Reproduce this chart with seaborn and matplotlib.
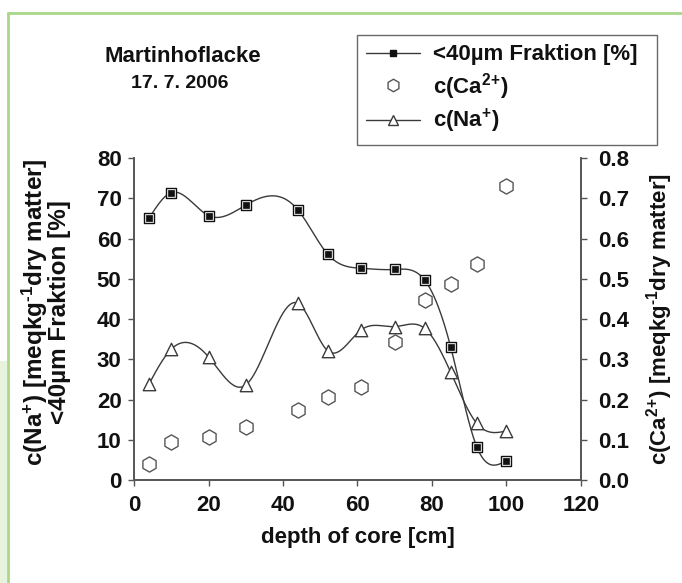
import numpy as np
import matplotlib
matplotlib.use("Agg")
import matplotlib.pyplot as plt
from matplotlib.lines import Line2D
from matplotlib.patches import Rectangle
import seaborn as sns

# depth of core [cm]
depth = [4, 10, 20, 30, 44, 52, 61, 70, 78, 85, 92, 100]
# <40 µm fraction [%]
fraction = [65.0, 71.4, 65.7, 68.3, 67.1, 56.1, 52.6, 52.3, 49.7, 33.1, 8.3, 4.8]
# c(Na+) [meq kg-1 dry matter]
sodium = [23.8, 32.5, 30.6, 23.6, 43.9, 32.1, 37.3, 38.1, 37.7, 26.8, 14.1, 12.2]
# c(Ca2+) [meq kg-1 dry matter]
calcium = [0.039, 0.094, 0.106, 0.131, 0.174, 0.207, 0.232, 0.344, 0.447, 0.486, 0.537, 0.730]

x_ticks = [0, 20, 40, 60, 80, 100, 120]
left_ticks = [0, 10, 20, 30, 40, 50, 60, 70, 80]
right_ticks = [0.0, 0.1, 0.2, 0.3, 0.4, 0.5, 0.6, 0.7, 0.8]


def natural_spline(x, y, n=500):
    """Smooth curve through the measured points (natural cubic spline)."""
    x = np.asarray(x, float)
    y = np.asarray(y, float)
    k = len(x)
    h = np.diff(x)
    A = np.zeros((k, k))
    b = np.zeros(k)
    A[0, 0] = A[-1, -1] = 1.0
    for i in range(1, k - 1):
        A[i, i - 1] = h[i - 1]
        A[i, i] = 2 * (h[i - 1] + h[i])
        A[i, i + 1] = h[i]
        b[i] = 3 * ((y[i + 1] - y[i]) / h[i] - (y[i] - y[i - 1]) / h[i - 1])
    c = np.linalg.solve(A, b)
    xs = np.linspace(x[0], x[-1], n)
    idx = np.clip(np.searchsorted(x, xs) - 1, 0, k - 2)
    dx = xs - x[idx]
    bc = (y[1:] - y[:-1]) / h - h * (2 * c[:-1] + c[1:]) / 3
    dc = (c[1:] - c[:-1]) / (3 * h)
    ys = y[idx] + bc[idx] * dx + c[idx] * dx ** 2 + dc[idx] * dx ** 3
    return xs, ys


sns.set_style("ticks")
plt.rcParams["font.family"] = ["Liberation Sans", "DejaVu Sans"]
plt.rcParams["font.weight"] = "bold"
plt.rcParams["mathtext.fontset"] = "custom"
plt.rcParams["mathtext.rm"] = "Liberation Sans:bold"
plt.rcParams["mathtext.default"] = "rm"

W, H = 682, 583
fig = plt.figure(figsize=(W / 100, H / 100), dpi=100)
ax = fig.add_axes([134 / W, 1 - 480 / H, (581 - 134) / W, (480 - 158) / H])
ax2 = ax.twinx()

line_col = "#3a3a3a"
spine_col = "#555555"
text_col = "#111111"
fs = 16

# smooth curves
fx, fy = natural_spline(depth, fraction)
nx, ny = natural_spline(depth, sodium)
sns.lineplot(x=fx, y=fy, ax=ax, color=line_col, lw=1.0, estimator=None, sort=False, zorder=2)
sns.lineplot(x=nx, y=ny, ax=ax, color=line_col, lw=1.0, estimator=None, sort=False, zorder=2)

# markers
sns.scatterplot(x=depth, y=sodium, ax=ax, marker="^", s=80, facecolor="white",
                edgecolor=line_col, linewidth=1.0, zorder=3)
sns.scatterplot(x=depth, y=fraction, ax=ax, marker="s", s=60, facecolor="white",
                edgecolor="#111111", linewidth=1.0, zorder=3)
sns.scatterplot(x=depth, y=fraction, ax=ax, marker="s", s=16, facecolor="#111111",
                edgecolor="#111111", linewidth=0.5, zorder=4)
sns.scatterplot(x=depth, y=calcium, ax=ax2, marker="h", s=120, facecolor="white",
                edgecolor="#555555", linewidth=1.0, zorder=3)

ax.set_xlim(0, 120)
ax.set_ylim(0, 80)
ax2.set_ylim(0, 0.8)
ax.set_xticks(x_ticks)
ax.set_yticks(left_ticks)
ax2.set_yticks(right_ticks)
ax2.set_yticklabels([f"{v:.1f}" for v in right_ticks])

for a in (ax, ax2):
    for side in ("left", "right", "bottom"):
        a.spines[side].set_color(spine_col)
        a.spines[side].set_linewidth(1.2)
    a.spines["top"].set_visible(False)
    a.tick_params(length=4, width=1.0, color=spine_col, labelsize=fs, labelcolor=text_col)
ax.tick_params(axis="y", pad=5)
ax.tick_params(axis="x", pad=7)
ax2.tick_params(axis="y", pad=8)
ax.grid(False)
ax2.grid(False)

sup_m1 = r"$^{\text{-}1}$"
ax.set_xlabel("depth of core [cm]", fontsize=fs, fontweight="bold", labelpad=8, color=text_col)
ax.set_ylabel("c(Na$^{+}$) [meqkg" + sup_m1 + "dry matter]\n<40µm Fraktion [%]",
              fontsize=17.5, fontweight="bold", color=text_col, linespacing=0.85)
ax.yaxis.set_label_coords(-0.142, 0.52)
ax2.set_ylabel("c(Ca$^{2}$$^{+}$) [meqkg" + sup_m1 + "dry matter]", fontsize=fs,
               fontweight="bold", labelpad=11, color=text_col)

# legend
handles = [
    Line2D([], [], color=line_col, lw=1.0, marker="s", markersize=5,
           markerfacecolor="#111111", markeredgecolor="#111111"),
    Line2D([], [], color="none", marker="h", markersize=9,
           markerfacecolor="white", markeredgecolor="#555555"),
    Line2D([], [], color=line_col, lw=1.0, marker="^", markersize=7,
           markerfacecolor="white", markeredgecolor=line_col),
]
labels = ["<40µm Fraktion [%]", "c(Ca$^{2}$$^{+}$)", "c(Na$^{+}$)"]
leg = fig.legend(handles, labels, loc="upper left",
                 bbox_to_anchor=(357 / W, 1 - 143 / H, 300 / W, 108 / H), mode="expand",
                 fontsize=fs, frameon=True, fancybox=False, edgecolor="#444444",
                 handlelength=2.4, handletextpad=0.6, borderpad=0.42,
                 labelspacing=0.24, borderaxespad=0)
leg.get_frame().set_linewidth(1.0)
for t in leg.get_texts():
    t.set_color(text_col)

# site title
fig.text(183 / W, 1 - 56 / H, "Martinhoflacke", ha="center", va="center",
         fontsize=16, fontweight="bold", color=text_col)
fig.text(180 / W, 1 - 83 / H, "17. 7. 2006", ha="center", va="center",
         fontsize=14, fontweight="bold", color=text_col)

# page frame
green = "#a9d78b"
fig.add_artist(Rectangle((0, 0), 7 / W, 1 - 361 / H, transform=fig.transFigure,
                         facecolor="#e8f3dd", edgecolor="none"))
fig.add_artist(Line2D([8 / W, 1], [1 - 13 / H] * 2, transform=fig.transFigure,
                      color=green, lw=2.0))
fig.add_artist(Line2D([8 / W] * 2, [0, 1 - 13 / H], transform=fig.transFigure,
                      color=green, lw=2.0))

fig.savefig("out.png", dpi=100)
